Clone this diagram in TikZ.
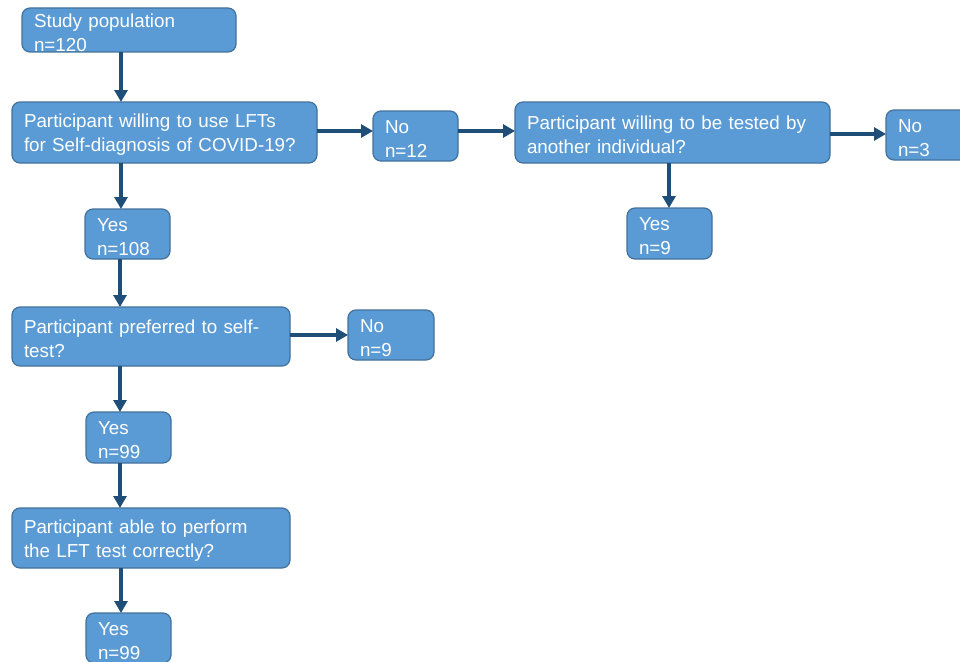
\documentclass[tikz,border=0pt]{standalone}
\usepackage{fontspec}
\setmainfont{Liberation Sans}
\usetikzlibrary{arrows.meta,calc}
\definecolor{boxfill}{HTML}{5B9BD5}
\definecolor{boxline}{HTML}{41719C}
\definecolor{arrcol}{HTML}{1F4E79}
\begin{document}
\begin{tikzpicture}[x=1pt,y=-1pt,
  box/.style={draw=boxline, fill=boxfill, line width=1.2pt, rounded corners=8pt,
    anchor=north west, inner xsep=12pt, inner ysep=0pt, outer sep=0pt,
    align=left, text=white, font=\fontsize{18.8}{24}\selectfont},
  arr/.style={draw=arrcol, line width=3.8pt, -{Triangle[length=12pt,width=13pt]}}]
\useasboundingbox (0,0) rectangle (960,661);
\newcommand{\bx}[6]{\node[box, minimum width=#4pt, minimum height=#5pt, text width={#4pt-24pt}] (#1) at (#2,#3) {\rule{0pt}{18.6pt}#6};}
\bx{b1}{22}{8}{214}{44}{Study population\\n=120}
\bx{b2}{12}{102}{305}{61}{Participant willing to use LFTs\\for Self-diagnosis of COVID-19?}
\bx{b3}{373}{111}{85}{50}{No\\n=12}
\bx{b4}{515}{102}{315}{61}{Participant willing to be tested by\\another individual?}
\bx{b5}{886}{110}{85}{50}{No\\n=3}
\bx{b6}{85}{209}{85}{50}{Yes\\n=108}
\bx{b7}{627}{208}{85}{51}{Yes\\n=9}
\bx{b8}{12}{307}{278}{59}{Participant preferred to self-\\test?}
\bx{b9}{348}{310}{86}{50}{No\\n=9}
\bx{b10}{86}{412}{85}{51}{Yes\\n=99}
\bx{b11}{12}{508}{278}{60}{Participant able to perform\\the LFT test correctly?}
\bx{b12}{86}{613}{85}{50}{Yes\\n=99}
\draw[arr] ($(b1.south west)+(99,0)$) -- ($(b2.north west)+(109,0)$);
\draw[arr] ($(b2.north east)+(0,29)$) -- ($(b3.north west)+(0,20)$);
\draw[arr] ($(b3.north east)+(0,20)$) -- ($(b4.north west)+(0,29)$);
\draw[arr] ($(b4.north east)+(0,32)$) -- ($(b5.north west)+(0,24)$);
\draw[arr] ($(b2.south west)+(109,0)$) -- ($(b6.north west)+(36,0)$);
\draw[arr] ($(b4.south west)+(154,0)$) -- ($(b7.north west)+(42,0)$);
\draw[arr] ($(b6.south west)+(35,0)$) -- ($(b8.north west)+(108,0)$);
\draw[arr] ($(b8.north east)+(0,28)$) -- ($(b9.north west)+(0,25)$);
\draw[arr] ($(b8.south west)+(108,0)$) -- ($(b10.north west)+(34,0)$);
\draw[arr] ($(b10.south west)+(34,0)$) -- ($(b11.north west)+(108,0)$);
\draw[arr] ($(b11.south west)+(109,0)$) -- ($(b12.north west)+(35,0)$);
\end{tikzpicture}
\end{document}
